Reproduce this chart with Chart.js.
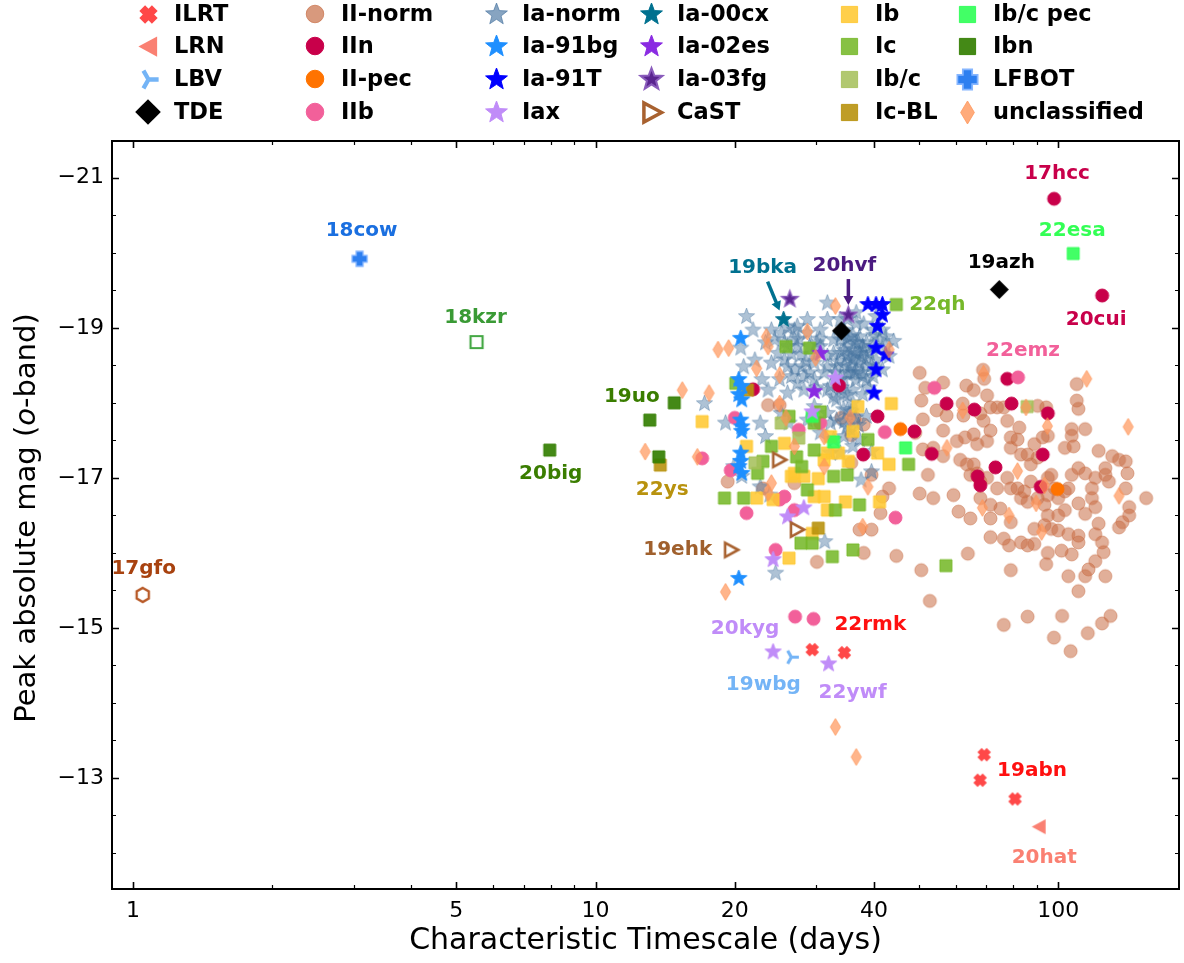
<!DOCTYPE html>
<html>
<head>
<meta charset="utf-8">
<script src="https://cdn.jsdelivr.net/npm/chart.js@4.4.1/dist/chart.umd.min.js"></script>
<style>
  html, body { margin: 0; padding: 0; background: #fff; }
</style>
</head>
<body>
<canvas id="chart" width="1184" height="963"></canvas>
<script>
// timescale (days), peak absolute o-band mag
const ilrt = [[34.5,-14.67],[80.7,-12.72],[29.4,-14.71],[69.2,-13.31],[67.8,-12.97]];
const lrn = [[91.0,-12.35]];
const lbv = [[26.5,-14.61]];
const tde = [[74.6,-19.51],[34.0,-18.96]];
const lfbot = [[3.09,-19.92]];
const gfo17 = [[1.05,-15.44]];
const kzr18 = [[5.53,-18.81]];

const iiNorm = [
  [50.2,-18.40],[68.8,-18.44],[69.2,-18.32],[56.4,-18.27],[63.3,-18.23],[65.7,-18.17],[109.7,-18.25],[50.6,-18.03],
  [70.2,-18.10],[54.6,-17.90],[57.4,-17.83],[62.2,-17.99],[62.4,-17.83],[67.9,-17.86],[69.0,-17.76],[71.4,-17.94],
  [73.8,-17.94],[76.3,-17.94],[77.6,-17.76],[82.4,-17.67],[90.3,-17.96],[94.2,-17.94],[95.0,-17.56],[92.6,-17.54],
  [109.7,-18.03],[110.6,-17.92],[114.4,-17.65],[107.0,-17.65],[107.0,-17.56],[51.0,-17.78],[56.4,-17.63],[51.0,-17.38],
  [53.7,-17.40],[56.4,-17.29],[60.4,-17.49],[62.9,-17.54],[65.7,-17.58],[66.8,-17.45],[70.2,-17.49],[71.4,-17.63],
  [79.0,-17.54],[79.0,-17.40],[81.7,-17.51],[83.1,-17.31],[85.9,-17.31],[88.8,-17.45],[87.3,-17.18],[90.3,-17.27],
  [63.5,-17.18],[61.4,-17.24],[65.7,-17.18],[66.8,-17.06],[64.6,-17.04],[67.9,-16.95],[70.2,-17.00],[73.8,-16.86],
  [77.6,-17.00],[79.0,-16.86],[81.7,-16.86],[84.5,-16.82],[85.9,-16.68],[83.1,-16.73],[87.3,-16.95],[95.0,-17.00],
  [96.6,-17.04],[98.3,-16.86],[100.0,-16.73],[103.4,-16.82],[107.0,-17.04],[103.4,-17.40],[108.0,-17.42],[110.6,-17.13],
  [114.4,-17.06],[120.3,-17.00],[122.3,-17.36],[126.5,-17.13],[130.9,-17.29],[135.4,-17.24],[140.0,-17.22],[141.2,-17.06],
  [126.5,-17.04],[128.7,-16.95],[118.3,-16.86],[118.3,-16.73],[120.3,-16.61],[114.4,-16.52],[110.6,-16.66],[105.2,-16.86],
  [103.4,-16.57],[100.0,-16.50],[95.0,-16.50],[93.4,-16.37],[96.6,-16.32],[100.0,-16.30],[105.2,-16.25],[110.6,-16.23],
  [110.6,-16.14],[107.0,-15.98],[101.7,-16.03],[95.0,-16.00],[88.8,-16.12],[85.9,-16.10],[83.1,-16.14],[78.3,-16.10],
  [76.3,-16.19],[71.4,-16.21],[79.0,-16.41],[75.0,-16.59],[71.4,-16.64],[71.4,-16.46],[67.9,-16.73],[64.6,-16.46],
  [60.9,-16.55],[59.4,-16.77],[53.7,-16.73],[52.3,-17.04],[50.2,-16.79],[88.8,-16.32],[93.4,-16.64],[90.3,-16.73],
  [95.0,-16.77],[122.3,-16.39],[120.3,-16.25],[124.4,-16.14],[125.4,-16.01],[120.3,-15.89],[116.3,-15.78],[114.4,-15.69],
  [105.2,-15.69],[110.6,-15.49],[126.5,-15.69],[137.7,-16.41],[142.4,-16.50],[135.4,-16.34],[155.0,-16.73],[142.4,-16.61],
  [44.7,-15.96],[50.6,-15.77],[52.8,-15.36],[63.8,-15.99],[79.0,-15.77],[94.2,-15.85],[76.3,-15.04],[85.9,-15.15],
  [102.0,-15.16],[97.9,-14.87],[106.4,-14.69],[115.9,-14.93],[124.4,-15.06],[129.8,-15.16],[140.0,-16.86],
  [51.6,-18.20],[49.1,-17.60],[41.7,-16.75],[41.3,-16.53],[39.5,-17.04],[37.2,-16.31],[39.5,-16.31],[35.7,-17.20],
  [35.7,-17.57],[36.3,-17.80],[34.0,-17.80],[38.0,-17.71],[26.9,-16.93],[30.1,-15.88],[19.3,-16.95],[23.0,-16.86],
  [23.6,-17.97],[25.0,-17.97],[43.1,-16.86],[38.0,-16.00]
];
const iin = [
  [98.0,-20.72],[124.5,-19.43],[77.6,-18.32],[95.0,-17.86],[57.4,-17.99],[65.9,-17.91],[79.3,-17.99],[48.9,-17.62],
  [53.3,-17.32],[73.2,-17.14],[92.6,-17.31],[67.0,-17.02],[67.9,-16.90],[91.7,-16.88],[21.9,-18.18],[33.6,-18.23],
  [40.7,-17.82],[37.9,-17.31]
];
const iiPec = [[45.6,-17.65],[99.7,-16.85]];
const iib = [
  [81.9,-18.34],[54.0,-18.20],[20.0,-17.80],[27.5,-17.64],[30.6,-17.73],[42.2,-17.61],[17.0,-17.26],[19.6,-17.10],
  [21.2,-16.53],[25.0,-16.71],[25.6,-16.75],[26.9,-16.57],[24.5,-16.04],[44.5,-16.47],[27.0,-15.15],[29.6,-15.12]
];
const iaNorm = [
  [21.2,-19.15],[21.9,-18.97],[20.6,-18.73],[20.9,-18.48],[17.2,-17.99],[19.1,-17.73],[22.7,-17.73],[23.3,-17.55],
  [19.9,-17.15],[20.7,-17.02],[22.7,-16.88],[23.8,-16.77],[31.3,-16.15],[24.5,-15.73],[37.5,-16.97],[39.5,-17.08],
  [44.1,-18.82],[31.7,-19.33],[36.6,-19.20],[26.0,-19.00],[27.8,-18.64],[22.9,-18.31],[23.6,-18.17],[26.0,-18.13],
  [25.2,-17.86],[26.2,-17.73],[31.7,-17.86],[33.2,-18.04],[36.3,-18.40],[37.8,-18.11],[38.5,-17.82],[35.0,-17.68],
  [37.2,-17.51],[39.5,-17.35],[33.8,-17.33],[32.7,-17.51],[29.7,-17.95],[28.2,-18.17],[29.7,-18.53],[31.7,-18.62],
  [33.8,-18.66],[36.0,-18.57],[38.5,-18.80],[39.8,-18.97],[42.4,-18.88],[43.1,-18.62],[24.0,-18.53],[25.0,-18.31],
  [25.6,-18.80],[26.9,-18.84],[30.6,-18.97],[32.7,-18.84],[35.0,-18.75],[37.2,-18.88],[31.7,-19.11],[33.8,-19.11],
  [36.6,-19.06],[40.4,-19.15],[42.4,-18.75],[41.7,-18.44],[39.8,-18.35],[28.7,-17.77],[30.6,-17.60],[32.2,-17.73],
  [34.4,-17.91],[36.0,-18.17],[27.3,-19.02],[28.7,-19.11],[30.1,-18.80],[33.2,-18.48],[35.0,-18.40],[31.2,-18.40],
  [29.7,-18.31],[32.2,-18.22],[34.4,-18.13],[37.2,-18.66],[38.5,-18.48],[40.4,-18.57],[28.0,-18.48],[29.0,-18.75],
  [26.0,-18.48],[24.8,-18.66],[23.3,-18.80],[22.1,-18.57],[34.4,-18.97],[35.5,-18.88],[36.6,-18.80],[37.8,-18.75],
  [35.0,-18.62],[36.0,-18.71],[37.2,-18.53],[39.1,-18.66],[33.8,-18.84],[32.7,-18.66],[35.5,-18.48],[36.6,-18.44],
  [37.8,-18.35],[39.8,-18.75],[41.1,-18.84],[41.7,-18.97],[35.0,-19.11],[30.6,-18.75],[31.7,-18.48],[28.7,-18.93],
  [27.3,-18.75],[26.0,-18.75],[25.2,-18.93],[33.8,-18.31],[32.7,-18.08],[34.4,-18.31],[31.7,-18.17],[35.7,-17.88],
  [33.2,-17.77],[34.4,-17.55],[36.0,-17.42],[32.2,-17.33],[24.4,-18.84],[24.0,-18.97],[26.9,-18.97],[25.6,-18.57],
  [26.5,-18.35],[27.3,-18.26],[28.2,-18.35],
  [34.0,-18.90],[35.0,-18.85],[36.0,-18.90],[37.0,-18.80],[38.0,-18.70],[34.5,-18.70],[35.5,-18.60],[36.5,-18.65],
  [37.5,-18.60],[38.5,-18.60],[33.5,-18.55],[34.5,-18.50],[35.5,-18.40],[36.5,-18.30],[37.5,-18.40],[38.5,-18.30],
  [39.5,-18.50],[33.0,-18.40],[34.0,-18.20],[35.0,-18.10],[36.0,-18.00],[35.0,-17.90],[36.5,-17.80],[35.5,-17.65],
  [37.0,-17.70],[34.5,-17.75],[30.5,-18.85],[29.5,-18.65],[28.5,-18.55],[27.5,-18.85],[26.5,-18.65],[27.0,-18.45],
  [29.0,-18.40],[30.0,-18.20],[39.0,-18.20],[40.0,-18.90],[38.0,-19.05]
];
const ia91bg = [
  [20.6,-18.86],[20.4,-18.31],[20.7,-18.22],[20.4,-18.11],[20.7,-18.04],[20.6,-17.77],[20.7,-17.68],[20.7,-17.62],
  [20.6,-17.33],[20.6,-17.22],[20.4,-17.15],[20.7,-17.06],[20.4,-15.66]
];
const ia91T = [[38.8,-19.31],[40.4,-19.31],[41.7,-19.31],[41.7,-19.17],[40.7,-19.02],[40.4,-18.73],[42.4,-18.64],[40.4,-18.44],[40.0,-18.13]];
const iax = [[24.2,-14.68],[31.9,-14.52],[33.0,-18.33],[29.4,-17.88],[28.2,-16.60],[26.0,-16.48],[24.2,-15.91]];
const ia00cx = [[25.5,-19.11]];
const ia02es = [[30.6,-18.66],[29.7,-18.15]];
const ia03fg = [[35.2,-19.17],[26.3,-19.38]];
const cast = [[19.6,-16.04],[24.9,-17.24],[27.2,-16.31]];
const ib = [
  [17.0,-17.75],[21.2,-17.42],[25.6,-17.46],[26.5,-17.02],[28.2,-17.02],[31.7,-17.33],[33.5,-17.33],[31.2,-17.24],
  [35.2,-17.22],[31.2,-16.75],[31.7,-16.57],[34.7,-16.68],[29.7,-16.75],[22.3,-16.73],[24.2,-16.71],[26.2,-15.93],
  [29.4,-16.26],[40.7,-17.33],[43.1,-17.18],[43.6,-17.99],[36.9,-17.95],[36.0,-17.62],[32.2,-17.55],[30.3,-16.99],
  [26.9,-17.06],[41.1,-16.68]
];
const ic = [
  [44.7,-19.31],[25.8,-18.75],[29.0,-18.73],[20.1,-18.26],[30.6,-17.88],[26.2,-17.82],[29.7,-17.73],[38.8,-17.51],
  [24.0,-17.42],[23.0,-17.22],[22.4,-17.06],[27.2,-17.28],[27.9,-17.15],[29.7,-17.37],[32.7,-17.02],[35.0,-17.04],
  [28.7,-16.84],[33.0,-16.57],[37.2,-16.64],[19.0,-16.73],[20.9,-16.73],[27.8,-16.13],[29.4,-16.13],[32.5,-15.95],
  [36.0,-16.04],[47.5,-17.18],[57.2,-15.83]
];
const ibc = [[27.5,-17.53],[25.2,-17.73],[22.1,-17.20],[85.7,-17.95]];
const icBL = [[13.8,-17.17],[21.3,-18.17],[30.3,-16.33]];
const ibcPec = [[107.8,-19.99],[29.4,-17.82],[32.7,-17.48],[46.8,-17.40]];
const ibn = [[13.1,-17.77],[7.96,-17.37],[14.8,-18.00],[13.7,-17.28]];
const unclassified = [
  [12.8,-17.35],[15.4,-18.17],[33.0,-13.68],[36.6,-13.28],[69.0,-18.39],[115.3,-18.32],[62.2,-17.90],[85.2,-17.94],
  [94.8,-17.69],[57.5,-17.40],[81.7,-17.09],[141.7,-17.68],[135.4,-16.76],[89.6,-16.66],[68.6,-16.60],[78.3,-16.50],
  [92.1,-16.28],[93.4,-16.90],[33.0,-19.29],[18.4,-18.71],[19.4,-18.73],[23.4,-18.88],[23.6,-18.75],[28.7,-18.95],
  [22.3,-18.46],[25.0,-18.37],[29.9,-18.60],[43.1,-18.71],[17.6,-18.13],[25.0,-17.99],[25.8,-17.80],[35.5,-17.80],
  [31.2,-17.55],[26.9,-17.42],[16.6,-17.28],[24.0,-16.93],[23.6,-16.80],[31.2,-17.15],[38.8,-16.88],[37.8,-16.35],
  [19.1,-15.48]
];

const xMajorTicks = [1, 5, 10, 20, 40, 100];
const xMinorTicks = [2, 3, 4, 6, 7, 8, 9, 30, 50, 60, 70, 80, 90];
const yMajorTicks = [-21, -19, -17, -15, -13];
const yMinorTicks = [-20.5, -20, -19.5, -18.5, -18, -17.5, -16.5, -16, -15.5, -14.5, -14, -13.5, -12.5, -12];

const legendColumns = [
  ['ILRT', 'LRN', 'LBV', 'TDE'],
  ['II-norm', 'IIn', 'II-pec', 'IIb'],
  ['Ia-norm', 'Ia-91bg', 'Ia-91T', 'Iax'],
  ['Ia-00cx', 'Ia-02es', 'Ia-03fg', 'CaST'],
  ['Ib', 'Ic', 'Ib/c', 'Ic-BL'],
  ['Ib/c pec', 'Ibn', 'LFBOT', 'unclassified']
];

// marker look per class
const looks = {
  'ILRT':         { shape: 'x', color: 'rgba(255,40,40,0.85)', size: 15 },
  'LRN':          { shape: 'triLeft', color: '#fa8072', size: 15 },
  'LBV':          { shape: 'tri', color: '#74b4f6', size: 15 },
  'TDE':          { shape: 'diamond', color: '#000000', size: 19 },
  'II-norm':      { shape: 'circle', color: 'rgba(200,110,70,0.55)', size: 13, legend: 'rgba(200,110,70,0.7)' },
  'IIn':          { shape: 'circle', color: '#c8004a', size: 13 },
  'II-pec':       { shape: 'circle', color: '#ff7300', size: 13 },
  'IIb':          { shape: 'circle', color: '#f2609a', size: 13 },
  'Ia-norm':      { shape: 'star', color: 'rgba(70,115,160,0.44)', size: 17, legend: 'rgba(70,115,160,0.65)' },
  'Ia-91bg':      { shape: 'star', color: '#1e8fff', size: 17 },
  'Ia-91T':       { shape: 'star', color: '#0000ff', size: 17 },
  'Iax':          { shape: 'star', color: '#c08cf8', size: 17 },
  'Ia-00cx':      { shape: 'star', color: '#00718f', size: 17 },
  'Ia-02es':      { shape: 'star', color: '#8a2be2', size: 17 },
  'Ia-03fg':      { shape: 'star', color: '#5a2590', edge: '#8a5cbc', size: 17 },
  'CaST':         { shape: 'openTri', color: '#a8612f', size: 15 },
  'Ib':           { shape: 'square', color: 'rgba(255,200,50,0.88)', size: 12 },
  'Ic':           { shape: 'square', color: 'rgba(118,184,42,0.88)', size: 12 },
  'Ib/c':         { shape: 'square', color: 'rgba(166,192,92,0.88)', size: 12 },
  'Ic-BL':        { shape: 'square', color: 'rgba(184,146,14,0.9)', size: 12 },
  'Ib/c pec':     { shape: 'square', color: 'rgba(45,255,85,0.9)', size: 12 },
  'Ibn':          { shape: 'square', color: 'rgba(52,127,2,0.92)', size: 12 },
  'LFBOT':        { shape: 'plus', color: '#2d7ff0', edge: '#86b6ff', size: 15 },
  'unclassified': { shape: 'thinDiamond', color: 'rgba(255,150,90,0.7)', size: 17, legend: 'rgba(255,150,90,0.8)' },
  'hexOpen':      { shape: 'hexagon', color: '#b85a28', size: 14 },
  'squareOpen':   { shape: 'openSquare', color: '#45a845', size: 12 }
};

// bottom layer first
const series = [
  ['II-norm', iiNorm], ['Ia-norm', iaNorm], ['IIn', iin], ['II-pec', iiPec], ['IIb', iib],
  ['Ib', ib], ['Ic', ic], ['Ib/c', ibc], ['Ic-BL', icBL], ['Ib/c pec', ibcPec], ['Ibn', ibn],
  ['Ia-91bg', ia91bg], ['Ia-91T', ia91T], ['Iax', iax], ['Ia-00cx', ia00cx], ['Ia-02es', ia02es],
  ['Ia-03fg', ia03fg], ['CaST', cast], ['unclassified', unclassified], ['ILRT', ilrt], ['LRN', lrn],
  ['LBV', lbv], ['LFBOT', lfbot], ['TDE', tde], ['hexOpen', gfo17], ['squareOpen', kzr18]
];

// names written next to single objects
const notes = [
  { text: '17gfo', at: gfo17[0], dx: 1, dy: -26, color: '#a8420f' },
  { text: '18cow', at: lfbot[0], dx: 2, dy: -28, color: '#1a6fe0' },
  { text: '18kzr', at: kzr18[0], dx: -1, dy: -24, color: '#3a9a35' },
  { text: '19uo', at: ibn[0], dx: -18, dy: -23, color: '#3a7d00' },
  { text: '20big', at: ibn[1], dx: 1, dy: 24, color: '#3a7d00' },
  { text: '22ys', at: icBL[0], dx: 2, dy: 25, color: '#b8920e' },
  { text: '19ehk', at: cast[0], dx: -53, dy: 0, color: '#a0602d' },
  { text: '19bka', at: ia00cx[0], dx: -21, dy: -52, color: '#00718f', arrow: [-16, -38, -4, -9] },
  { text: '20hvf', at: ia03fg[0], dx: -4, dy: -49, color: '#4b1a80', arrow: [0, -36, 0, -10] },
  { text: '19azh', at: tde[0], dx: 2, dy: -27, color: '#000000' },
  { text: '22esa', at: ibcPec[0], dx: -1, dy: -23, color: '#33ff55' },
  { text: '17hcc', at: iin[0], dx: 3, dy: -25, color: '#c8004a' },
  { text: '20cui', at: iin[1], dx: -6, dy: 24, color: '#c8004a' },
  { text: '22qh', at: ic[0], dx: 41, dy: 0, color: '#76b82a' },
  { text: '22emz', at: iib[0], dx: 5, dy: -27, color: '#f2609a' },
  { text: '22rmk', at: ilrt[0], dx: 26, dy: -28, color: '#ff1010' },
  { text: '19abn', at: ilrt[1], dx: 17, dy: -28, color: '#ff1010' },
  { text: '20hat', at: lrn[0], dx: 5, dy: 31, color: '#fa8072' },
  { text: '19wbg', at: lbv[0], dx: -28, dy: 28, color: '#74b4f6' },
  { text: '20kyg', at: iax[0], dx: -28, dy: -23, color: '#c08cf8' },
  { text: '22ywf', at: iax[1], dx: 24, dy: 29, color: '#c08cf8' }
];

function poly(g, pts) {
  g.moveTo(pts[0][0], pts[0][1]);
  for (let i = 1; i < pts.length; i++) g.lineTo(pts[i][0], pts[i][1]);
  g.closePath();
}

function makeMarker(look, scale, color) {
  const s = look.size * scale;
  const dim = Math.ceil(s + 8);
  const c = document.createElement('canvas');
  c.width = dim; c.height = dim;
  const g = c.getContext('2d');
  g.translate(dim / 2, dim / 2);
  const r = s / 2;
  const col = color || look.color;
  g.fillStyle = col;
  g.strokeStyle = look.edge || col;
  g.lineWidth = 1;
  g.beginPath();
  switch (look.shape) {
    case 'circle':
      g.arc(0, 0, r, 0, Math.PI * 2); g.fill(); g.stroke(); break;
    case 'square':
      g.rect(-r, -r, s, s); g.fill(); g.stroke(); break;
    case 'diamond':
      poly(g, [[0, -r], [r, 0], [0, r], [-r, 0]]); g.fill(); break;
    case 'thinDiamond':
      poly(g, [[0, -r], [0.6 * r, 0], [0, r], [-0.6 * r, 0]]); g.fill(); g.stroke(); break;
    case 'star': {
      const pts = [];
      for (let i = 0; i < 10; i++) {
        const a = -Math.PI / 2 + i * Math.PI / 5;
        const rr = i % 2 ? r * 0.42 : r;
        pts.push([rr * Math.cos(a), rr * Math.sin(a)]);
      }
      poly(g, pts); g.fill();
      if (look.edge) g.lineWidth = 1.5 * scale;
      g.stroke();
      break;
    }
    case 'triLeft':
      poly(g, [[-r, 0], [0.85 * r, -r], [0.85 * r, r]]); g.fill(); break;
    case 'openTri':
      g.lineWidth = 2.6 * scale;
      poly(g, [[r, 0], [-0.75 * r, -0.95 * r], [-0.75 * r, 0.95 * r]]); g.stroke(); break;
    case 'tri':
      g.lineWidth = 3.2 * scale;
      g.moveTo(0, 0); g.lineTo(r, 0);
      g.moveTo(0, 0); g.lineTo(-0.5 * r, -0.87 * r);
      g.moveTo(0, 0); g.lineTo(-0.5 * r, 0.87 * r);
      g.stroke(); break;
    case 'x':
      g.lineWidth = 0.4 * s; g.lineCap = 'butt';
      g.moveTo(-0.62 * r, -0.62 * r); g.lineTo(0.62 * r, 0.62 * r);
      g.moveTo(0.62 * r, -0.62 * r); g.lineTo(-0.62 * r, 0.62 * r);
      g.stroke(); break;
    case 'plus': {
      const h = 0.23 * s;
      poly(g, [[-h, -r], [h, -r], [h, -h], [r, -h], [r, h], [h, h], [h, r], [-h, r], [-h, h], [-r, h], [-r, -h], [-h, -h]]);
      g.fill(); g.lineWidth = 1.3 * scale; g.stroke(); break;
    }
    case 'hexagon': {
      const pts = [];
      for (let i = 0; i < 6; i++) {
        const a = -Math.PI / 2 + i * Math.PI / 3;
        pts.push([r * Math.cos(a), r * Math.sin(a)]);
      }
      g.lineWidth = 2.4; poly(g, pts); g.stroke(); break;
    }
    case 'openSquare':
      g.lineWidth = 2.2; g.rect(-r, -r, s, s); g.stroke(); break;
  }
  return c;
}

const datasets = series.map(([name, rows], i) => ({
  label: name,
  data: rows.map(([x, y]) => ({ x, y })),
  pointStyle: makeMarker(looks[name], 1),
  order: series.length - i
}));

const FONT = '"DejaVu Sans", "Liberation Sans", sans-serif';

function tickMarks(ctx, chart) {
  const { left, right, top, bottom } = chart.chartArea;
  const xs = chart.scales.x, ys = chart.scales.y;
  ctx.save();
  ctx.strokeStyle = '#000';
  const mark = (vals, len, lw) => {
    ctx.lineWidth = lw;
    ctx.beginPath();
    vals.x.forEach(v => {
      const px = Math.round(xs.getPixelForValue(v)) + 0.5;
      ctx.moveTo(px, bottom); ctx.lineTo(px, bottom - len);
      ctx.moveTo(px, top); ctx.lineTo(px, top + len);
    });
    vals.y.forEach(v => {
      const py = Math.round(ys.getPixelForValue(v)) + 0.5;
      ctx.moveTo(left, py); ctx.lineTo(left + len, py);
      ctx.moveTo(right, py); ctx.lineTo(right - len, py);
    });
    ctx.stroke();
  };
  mark({ x: xMajorTicks, y: yMajorTicks }, 7, 1.6);
  mark({ x: xMinorTicks, y: yMinorTicks }, 4, 1.2);
  ctx.lineWidth = 2;
  ctx.strokeRect(left, top, right - left, bottom - top);
  ctx.restore();
}

const framePlugin = {
  id: 'frame',
  afterDatasetsDraw(chart) { tickMarks(chart.ctx, chart); }
};

const notePlugin = {
  id: 'notes',
  afterDatasetsDraw(chart) {
    const ctx = chart.ctx;
    const xs = chart.scales.x, ys = chart.scales.y;
    ctx.save();
    ctx.font = 'bold 20px ' + FONT;
    ctx.textAlign = 'center';
    ctx.textBaseline = 'middle';
    notes.forEach(n => {
      const px = xs.getPixelForValue(n.at[0]);
      const py = ys.getPixelForValue(n.at[1]);
      ctx.fillStyle = n.color;
      ctx.fillText(n.text, px + n.dx, py + n.dy);
      if (n.arrow) {
        const [x0, y0, x1, y1] = n.arrow;
        const ax = px + x0, ay = py + y0, bx = px + x1, by = py + y1;
        const ang = Math.atan2(by - ay, bx - ax);
        const head = 9;
        ctx.strokeStyle = n.color;
        ctx.lineWidth = 3.5;
        ctx.beginPath();
        ctx.moveTo(ax, ay);
        ctx.lineTo(bx - head * 0.8 * Math.cos(ang), by - head * 0.8 * Math.sin(ang));
        ctx.stroke();
        ctx.beginPath();
        ctx.moveTo(bx, by);
        ctx.lineTo(bx - head * Math.cos(ang) + 5 * Math.sin(ang), by - head * Math.sin(ang) - 5 * Math.cos(ang));
        ctx.lineTo(bx - head * Math.cos(ang) - 5 * Math.sin(ang), by - head * Math.sin(ang) + 5 * Math.cos(ang));
        ctx.closePath();
        ctx.fill();
      }
    });
    ctx.restore();
  }
};

const titlePlugin = {
  id: 'axisTitles',
  afterDraw(chart) {
    const ctx = chart.ctx;
    const { left, right } = chart.chartArea;
    ctx.save();
    ctx.fillStyle = '#000';
    ctx.textBaseline = 'middle';
    ctx.font = '30px ' + FONT;
    ctx.textAlign = 'center';
    ctx.fillText('Characteristic Timescale (days)', (left + right) / 2, 941);

    const parts = [['Peak absolute mag (', '29px ' + FONT], ['o', 'italic 29px ' + FONT], ['-band)', '29px ' + FONT]];
    let total = 0;
    parts.forEach(p => { ctx.font = p[1]; total += ctx.measureText(p[0]).width; });
    ctx.translate(27, 518);
    ctx.rotate(-Math.PI / 2);
    ctx.textAlign = 'left';
    let x = -total / 2;
    parts.forEach(p => { ctx.font = p[1]; ctx.fillText(p[0], x, 0); x += ctx.measureText(p[0]).width; });
    ctx.restore();
  }
};

const legendMarkX = [148, 315, 496, 651, 849, 967];
const legendRowY = [14, 46, 79, 112];

const legendPlugin = {
  id: 'legendGrid',
  afterDraw(chart) {
    const ctx = chart.ctx;
    ctx.save();
    ctx.font = 'bold 22.5px ' + FONT;
    ctx.textBaseline = 'middle';
    ctx.textAlign = 'left';
    ctx.fillStyle = '#000';
    legendColumns.forEach((col, ci) => {
      col.forEach((name, ri) => {
        const look = looks[name];
        const img = makeMarker(look, 1.35, look.legend);
        const cx = legendMarkX[ci], cy = legendRowY[ri];
        ctx.drawImage(img, Math.round(cx - img.width / 2), Math.round(cy - img.height / 2));
        ctx.fillText(name, cx + 26, cy + 1);
      });
    });
    ctx.restore();
  }
};

new Chart(document.getElementById('chart'), {
  type: 'scatter',
  data: { datasets },
  options: {
    responsive: false,
    animation: false,
    devicePixelRatio: 1,
    layout: { padding: { top: 141, right: 4, left: 0, bottom: 0 } },
    plugins: { legend: { display: false }, tooltip: { enabled: false } },
    scales: {
      x: {
        type: 'logarithmic',
        min: 0.901,
        max: 182.5,
        afterFit: s => { s.height = 74; },
        afterBuildTicks: s => { s.ticks = xMajorTicks.map(v => ({ value: v })); },
        grid: { display: false, drawTicks: false },
        border: { display: false },
        ticks: {
          autoSkip: false, maxRotation: 0, padding: 9, color: '#000',
          font: { family: FONT, size: 22 },
          callback: v => String(v)
        }
      },
      y: {
        type: 'linear',
        reverse: true,
        min: -21.49,
        max: -11.52,
        afterFit: s => { s.width = 112; },
        afterBuildTicks: s => { s.ticks = yMajorTicks.map(v => ({ value: v })); },
        grid: { display: false, drawTicks: false },
        border: { display: false },
        ticks: {
          autoSkip: false, padding: 8, color: '#000',
          font: { family: FONT, size: 22 },
          callback: v => '\u2212' + Math.abs(v)
        }
      }
    }
  },
  plugins: [framePlugin, notePlugin, titlePlugin, legendPlugin]
});
</script>
</body>
</html>
